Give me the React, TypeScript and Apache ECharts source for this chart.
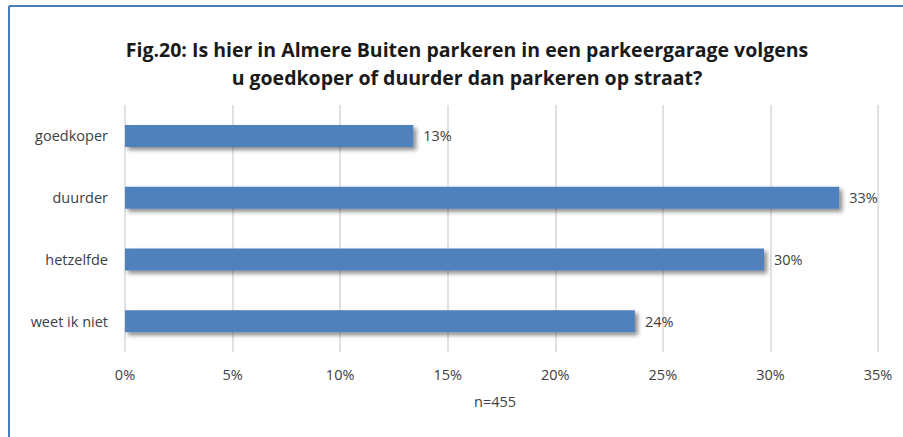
import React, { useEffect, useRef } from "react";
import * as echarts from "echarts";

const titleLines = [
  "Fig.20: Is hier in Almere Buiten parkeren in een parkeergarage volgens",
  "u goedkoper of duurder dan parkeren op straat?",
];
const categories = ["goedkoper", "duurder", "hetzelfde", "weet ik niet"];
const values = [13.4, 33.2, 29.7, 23.7];
const labels = ["13%", "33%", "30%", "24%"];
const axisMax = 35;
const axisStep = 5;
const footnote = "n=455";

const FONT = "'Open Sans', Lato, sans-serif";

export default function App() {
  const ref = useRef<HTMLDivElement>(null);
  useEffect(() => {
    if (!ref.current) return;
    const chart = echarts.init(ref.current, null, { renderer: "svg" });
    chart.setOption({
      animation: false,
      backgroundColor: "#ffffff",
      title: {
        text: titleLines.join("\n"),
        left: 462,
        top: 30,
        textAlign: "center",
        textStyle: {
          fontFamily: FONT,
          fontSize: 19.5,
          fontWeight: "bold",
          color: "#1a1a1a",
          lineHeight: 28,
        },
      },
      grid: { left: 125, right: 25, top: 105, height: 247, containLabel: false },
      xAxis: {
        type: "value",
        min: 0,
        max: axisMax,
        interval: axisStep,
        axisLine: { show: false },
        axisTick: { show: false },
        splitLine: { show: true, lineStyle: { color: "#d9d9d9", width: 1.5 } },
        axisLabel: {
          formatter: (v: number) => `${v}%`,
          fontFamily: FONT,
          fontSize: 14.5,
          color: "#404040",
          margin: 15,
        },
      },
      yAxis: {
        type: "category",
        data: categories,
        inverse: true,
        axisLine: { show: false },
        axisTick: { show: false },
        axisLabel: {
          fontFamily: FONT,
          fontSize: 14.5,
          color: "#404040",
          margin: 17,
        },
      },
      series: [
        {
          type: "bar",
          data: values,
          barWidth: 22,
          itemStyle: {
            color: "#4f81bd",
            shadowColor: "rgba(0,0,0,0.45)",
            shadowBlur: 4,
            shadowOffsetX: 3,
            shadowOffsetY: 3,
          },
          label: {
            show: true,
            position: "right",
            distance: 10,
            formatter: (p: any) => labels[p.dataIndex],
            fontFamily: FONT,
            fontSize: 14.5,
            color: "#404040",
          },
        },
      ],
      graphic: [
        {
          type: "text",
          left: 474,
          top: 394,
          style: {
            text: footnote,
            fontFamily: FONT,
            fontSize: 14.5,
            fill: "#404040",
          },
        },
        {
          type: "line",
          shape: { x1: 9, y1: 6, x2: 903, y2: 6 },
          style: { stroke: "#4a7ebb", lineWidth: 2 },
        },
        {
          type: "line",
          shape: { x1: 9, y1: 6, x2: 9, y2: 437 },
          style: { stroke: "#4a7ebb", lineWidth: 2 },
        },
      ],
    });
    return () => chart.dispose();
  }, []);
  return (
    <div
      ref={ref}
      style={{ position: "fixed", left: 0, top: 0, width: 903, height: 437 }}
    />
  );
}
